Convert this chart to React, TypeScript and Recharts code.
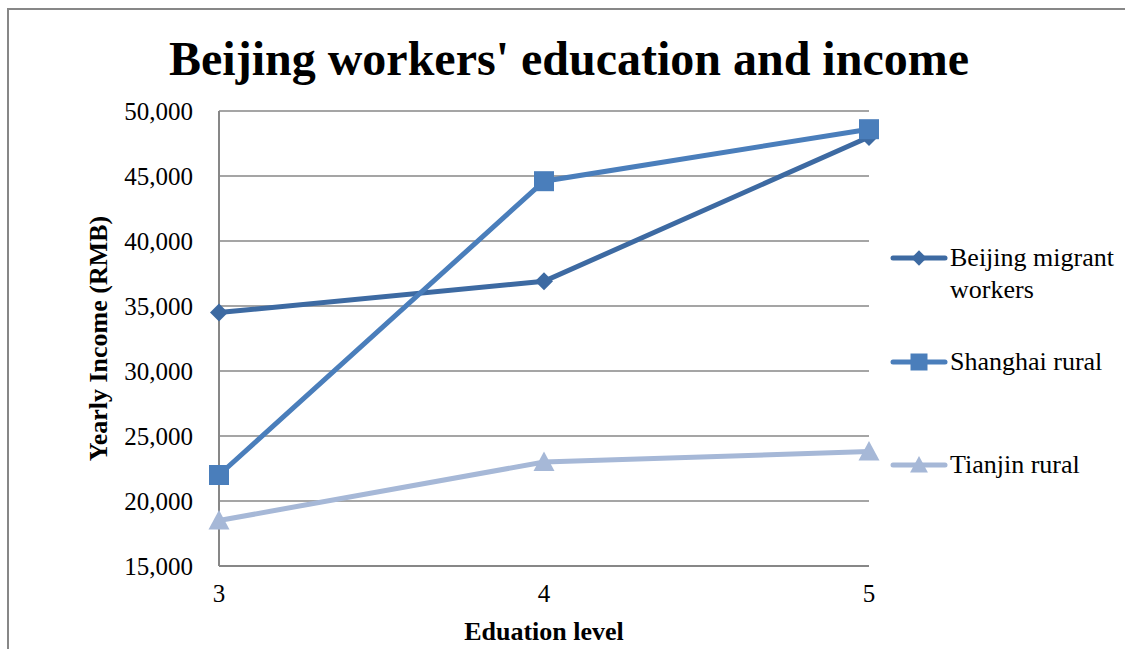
import { LineChart, Line, XAxis, YAxis, CartesianGrid, Legend, Label } from 'recharts';

const educationLevels = [3, 4, 5];
const beijingMigrant = [34500, 36900, 48000];
const shanghaiRural = [22000, 44600, 48600];
const tianjinRural = [18500, 23000, 23800];
const yTicks = [15000, 20000, 25000, 30000, 35000, 40000, 45000, 50000];
const xTicks = [3, 4, 5];

const FONT = '"Liberation Serif", "Times New Roman", serif';
const GRID = '#878787';

const series = [
  { key: 'beijing', name: 'Beijing migrant workers', color: '#3D6AA2', shape: 'diamond' },
  { key: 'shanghai', name: 'Shanghai rural', color: '#4A7EBB', shape: 'square' },
  { key: 'tianjin', name: 'Tianjin rural', color: '#A6B8D7', shape: 'triangle' },
];

const chartData = educationLevels.map((level, i) => ({
  level,
  beijing: beijingMigrant[i],
  shanghai: shanghaiRural[i],
  tianjin: tianjinRural[i],
}));

function markerPath(shape: string, cx: number, cy: number, s: number) {
  if (shape === 'diamond') {
    return `M${cx},${cy - s} L${cx + s},${cy} L${cx},${cy + s} L${cx - s},${cy} Z`;
  }
  if (shape === 'square') {
    return `M${cx - s},${cy - s} H${cx + s} V${cy + s} H${cx - s} Z`;
  }
  return `M${cx},${cy - s} L${cx + s},${cy + s * 0.85} L${cx - s},${cy + s * 0.85} Z`;
}

const sizes: Record<string, number> = { diamond: 9, square: 10, triangle: 10.5 };

function makeDot(shape: string, color: string) {
  return (props: any) => {
    const { cx, cy, index } = props;
    if (cx == null || cy == null) return <g key={index} />;
    return <path key={index} d={markerPath(shape, cx, cy, sizes[shape])} fill={color} />;
  };
}

// legend drawn by hand so the wrapped "Beijing migrant / workers" entry matches
function LegendContent() {
  return (
    <div style={{ fontFamily: FONT, fontSize: 26, color: '#000', lineHeight: '32px' }}>
      {series.map((s, i) => (
        <div key={s.key} style={{ display: 'flex', alignItems: 'flex-start', marginBottom: i === 0 ? 40 : 71 }}>
          <svg width={58} height={32} style={{ flex: 'none' }}>
            <line x1={3} y1={16} x2={55} y2={16} stroke={s.color} strokeWidth={5} strokeLinecap="round" />
            <path d={markerPath(s.shape, 29, 16, sizes[s.shape] * 0.85)} fill={s.color} />
          </svg>
          <div style={{ width: 175, marginLeft: 2 }}>
            {s.key === 'beijing' ? (
              <>
                Beijing migrant
                <br />
                workers
              </>
            ) : (
              s.name
            )}
          </div>
        </div>
      ))}
    </div>
  );
}

export default function App() {
  return (
    <div style={{ position: 'absolute', left: 0, top: 0, width: 1125, height: 649, background: '#fff', overflow: 'hidden' }}>
      <div
        style={{
          position: 'absolute',
          left: 7,
          top: 8,
          width: 1200,
          height: 700,
          borderLeft: `2px solid ${GRID}`,
          borderTop: `2px solid ${GRID}`,
        }}
      />
      <div
        style={{
          position: 'absolute',
          left: 0,
          width: 1138,
          top: 31,
          textAlign: 'center',
          fontFamily: FONT,
          fontWeight: 'bold',
          fontSize: 48,
          lineHeight: '56px',
          color: '#000',
        }}
      >
        Beijing workers' education and income
      </div>
      <LineChart
        width={1125}
        height={649}
        data={chartData}
        margin={{ top: 111, right: 256, bottom: 0, left: 0 }}
        style={{ position: 'absolute', left: 0, top: 0 }}
      >
        <CartesianGrid horizontal vertical={false} stroke={GRID} strokeWidth={1.5} />
        <XAxis
          dataKey="level"
          type="number"
          domain={[3, 5]}
          ticks={xTicks}
          tickSize={0}
          tickMargin={18}
          axisLine={{ stroke: GRID, strokeWidth: 2 }}
          tick={{ fill: '#000', fontSize: 25, fontFamily: FONT }}
          height={83}
        >
          <Label
            value="Eduation level"
            position="insideBottom"
            offset={9}
            style={{ fill: '#000', fontSize: 26, fontWeight: 'bold', fontFamily: FONT }}
          />
        </XAxis>
        <YAxis
          type="number"
          domain={[15000, 50000]}
          ticks={yTicks}
          interval={0}
          tickSize={0}
          tickMargin={26}
          width={219}
          axisLine={{ stroke: GRID, strokeWidth: 2 }}
          tick={{ fill: '#000', fontSize: 25, fontFamily: FONT }}
          tickFormatter={(v: number) => v.toLocaleString('en-US')}
        >
          <Label
            value="Yearly Income (RMB)"
            angle={-90}
            position="insideLeft"
            offset={98}
            style={{ textAnchor: 'middle', fill: '#000', fontSize: 26, fontWeight: 'bold', fontFamily: FONT }}
          />
        </YAxis>
        <Legend
          layout="vertical"
          align="center"
          verticalAlign="middle"
          content={<LegendContent />}
          wrapperStyle={{ position: 'absolute', left: 890, top: 242, width: 235 }}
        />
        {series.map((s) => (
          <Line
            key={s.key}
            dataKey={s.key}
            name={s.name}
            stroke={s.color}
            strokeWidth={5}
            dot={makeDot(s.shape, s.color)}
            activeDot={false}
            isAnimationActive={false}
          />
        ))}
      </LineChart>
    </div>
  );
}
